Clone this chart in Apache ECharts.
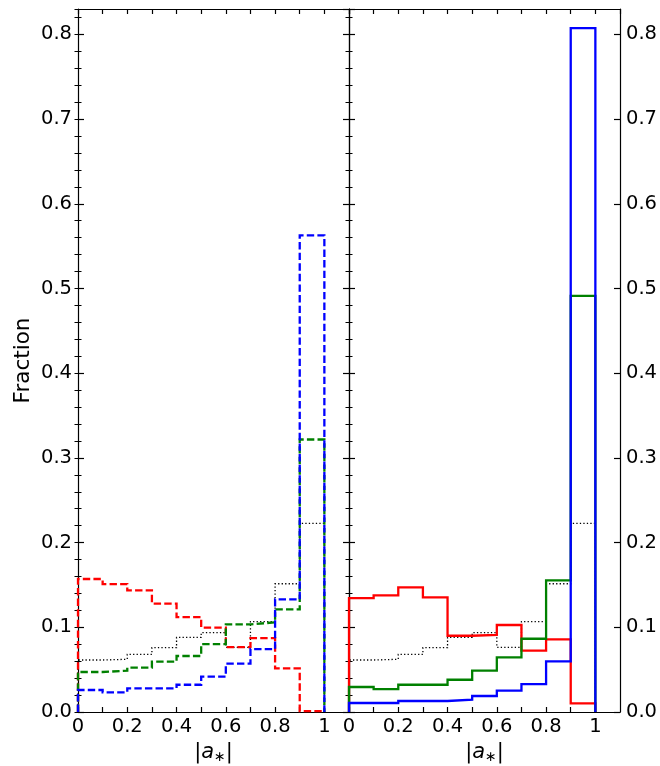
<!DOCTYPE html>
<html><head><meta charset="utf-8">
<script src="https://cdn.jsdelivr.net/npm/echarts@6/dist/echarts.min.js"></script>
<style>html,body{margin:0;padding:0;background:#fff}#c{width:660px;height:766px}</style>
</head><body><div id="c"></div>
<script>
// Bin edges of |a*| histograms
const binEdges = [0, 0.1, 0.2, 0.3, 0.4, 0.5, 0.6, 0.7, 0.8, 0.9, 1.0];
// Reference distribution (black dotted, both panels)
const refDotted = [0.0614, 0.0622, 0.0680, 0.0759, 0.0881, 0.0936, 0.0763, 0.1066, 0.1514, 0.2226];
// Left panel (dashed)
const leftRed   = [0.157, 0.151, 0.1436, 0.128, 0.112, 0.0995, 0.0767, 0.0873, 0.0515, 0.001];
const leftGreen = [0.0472, 0.0488, 0.0523, 0.0594, 0.0661, 0.0802, 0.1035, 0.1058, 0.1211, 0.3217];
const leftBlue  = [0.026, 0.0232, 0.028, 0.028, 0.0322, 0.0417, 0.057, 0.0743, 0.133, 0.5628];
// Right panel (solid)
const rightRed   = [0.1345, 0.1377, 0.1471, 0.1353, 0.090, 0.0909, 0.1027, 0.0724, 0.0858, 0.0102];
const rightGreen = [0.0295, 0.0271, 0.0322, 0.0322, 0.0381, 0.0488, 0.0645, 0.0865, 0.1554, 0.4912];
const rightBlue  = [0.0106, 0.0106, 0.013, 0.013, 0.0145, 0.0189, 0.0252, 0.033, 0.0598, 0.8075];
// Axis settings
const xMin = 0, xMax = 1.1, xTickStep = 0.1;
const yMin = 0, yMax = 0.83, yMajor = 0.1, yMinor = 0.02;
const xLabel = '|{i|a}{s|∗}|';
const yLabel = 'Fraction';

function stepPoints(vals) {
  const pts = [[binEdges[0], 0]];
  for (let i = 0; i < vals.length; i++) {
    pts.push([binEdges[i], vals[i]], [binEdges[i + 1], vals[i]]);
  }
  pts.push([binEdges[vals.length], 0]);
  return pts;
}

const FONT = 'DejaVu Sans';
const labelSize = 19.5;

function xFmt(v) {
  const k = Math.round(v * 10);
  if (Math.abs(v * 10 - k) > 1e-6 || k % 2 !== 0 || k > 10) return '';
  if (k === 0) return '0';
  if (k === 10) return '1';
  return (k / 10).toFixed(1);
}
function yFmt(v) {
  const k = Math.round(v * 10);
  if (Math.abs(v * 10 - k) > 1e-6) return '';
  return (k / 10).toFixed(1);
}

const grids = [
  {left: 78, top: 9, width: 271, height: 703, containLabel: false, outerBoundsMode: 'none'},
  {left: 349, top: 9, width: 271, height: 703, containLabel: false, outerBoundsMode: 'none'}
];

const xAxes = [], yAxes = [];
for (let g = 0; g < 2; g++) {
  xAxes.push({
    type: 'value', gridIndex: g, position: 'bottom', min: xMin, max: xMax, interval: xTickStep,
    axisLine: {show: true, onZero: false, lineStyle: {color: '#000', width: 1.2}},
    axisTick: {show: true, inside: true, length: 5, lineStyle: {color: '#000', width: 1.2}},
    axisLabel: {show: true, formatter: xFmt, color: '#000', fontFamily: FONT, fontSize: labelSize, margin: 5, showMaxLabel: false, hideOverlap: false},
    splitLine: {show: false},
    name: xLabel, nameLocation: 'middle', nameGap: 30,
    nameTextStyle: {color: '#000', fontFamily: FONT, fontSize: 21,
      rich: {i: {fontStyle: 'italic', fontFamily: FONT, fontSize: 21, color: '#000'},
             s: {fontFamily: FONT, fontSize: 14, color: '#000', verticalAlign: 'bottom', padding: [8, 0, 0, 0]}}}
  });
  xAxes.push({
    type: 'value', gridIndex: g, position: 'top', min: xMin, max: xMax, interval: xTickStep,
    axisLine: {show: true, onZero: false, lineStyle: {color: '#000', width: 1.2}},
    axisTick: {show: true, inside: true, length: 5, lineStyle: {color: '#000', width: 1.2}},
    axisLabel: {show: false}, splitLine: {show: false}
  });
}
for (let g = 0; g < 2; g++) {
  ['left', 'right'].forEach(function (pos) {
    const labeled = (g === 0 && pos === 'left') || (g === 1 && pos === 'right');
    const major = {
      type: 'value', gridIndex: g, position: pos, min: yMin, max: yMax, interval: yMajor,
      axisLine: {show: true, onZero: false, lineStyle: {color: '#000', width: 1.2}},
      axisTick: {show: true, inside: true, length: 6, lineStyle: {color: '#000', width: 1.2}},
      axisLabel: {show: labeled, formatter: yFmt, color: '#000', fontFamily: FONT, fontSize: labelSize, margin: 6, showMaxLabel: false},
      splitLine: {show: false}
    };
    if (g === 0 && pos === 'left') {
      major.name = yLabel; major.nameLocation = 'middle'; major.nameGap = 44;
      major.nameTextStyle = {color: '#000', fontFamily: FONT, fontSize: 21.5};
    }
    yAxes.push(major);
    yAxes.push({
      type: 'value', gridIndex: g, position: pos, min: yMin, max: yMax, interval: yMinor,
      axisLine: {show: false},
      axisTick: {show: true, inside: true, length: 3.5, lineStyle: {color: '#000', width: 1}},
      axisLabel: {show: false}, splitLine: {show: false}
    });
  });
}
// yAxis indices: grid0 left major 0, grid0 right major 2, grid1 left major 4, grid1 right major 6

const dashed = [7.4, 3.2];
const dotted = [1.3, 2.2];
function mk(vals, color, g, type, width) {
  return {
    type: 'line', xAxisIndex: g * 2, yAxisIndex: g * 4, data: stepPoints(vals),
    symbol: 'none', showSymbol: false, silent: true, animation: false,
    lineStyle: {color: color, width: width, type: type, cap: 'butt', join: 'miter'}
  };
}

const series = [
  mk(refDotted, '#000000', 0, dotted, 1.3),
  mk(leftRed, '#ff0000', 0, dashed, 2.3),
  mk(leftGreen, '#008000', 0, dashed, 2.3),
  mk(leftBlue, '#0000ff', 0, dashed, 2.3),
  mk(refDotted, '#000000', 1, dotted, 1.3),
  mk(rightRed, '#ff0000', 1, 'solid', 2.3),
  mk(rightGreen, '#008000', 1, 'solid', 2.3),
  mk(rightBlue, '#0000ff', 1, 'solid', 2.3)
];

const chart = echarts.init(document.getElementById('c'), null, {renderer: 'canvas'});
chart.setOption({
  animation: false,
  backgroundColor: '#fff',
  grid: grids,
  xAxis: xAxes,
  yAxis: yAxes,
  series: series
});
</script></body></html>
